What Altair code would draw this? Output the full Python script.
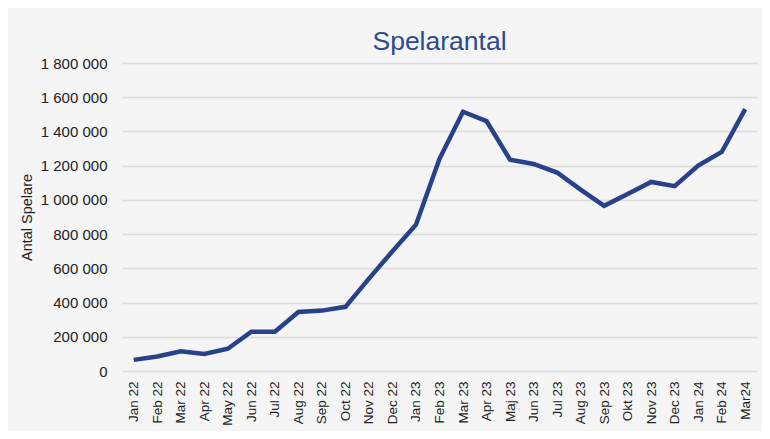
import altair as alt
import pandas as pd

months = ["Jan 22", "Feb 22", "Mar 22", "Apr 22", "May 22", "Jun 22", "Jul 22",
          "Aug 22", "Sep 22", "Oct 22", "Nov 22", "Dec 22", "Jan 23", "Feb 23",
          "Mar 23", "Apr 23", "Maj 23", "Jun 23", "Jul 23", "Aug 23", "Sep 23",
          "Okt 23", "Nov 23", "Dec 23", "Jan 24", "Feb 24", "Mar24"]
players = [65000, 85000, 115000, 100000, 130000, 230000, 230000,
           345000, 353000, 375000, 540000, 700000, 855000, 1240000,
           1515000, 1460000, 1235000, 1210000, 1160000, 1060000, 965000,
           1035000, 1105000, 1080000, 1200000, 1280000, 1530000]

df = pd.DataFrame({"month": months, "players": players})

chart = alt.Chart(df).mark_line(color="#27418a", strokeWidth=4.5).encode(
    x=alt.X("month:N", sort=months, title=None,
            scale=alt.Scale(paddingInner=1, paddingOuter=0.5),
            axis=alt.Axis(labelAngle=-90, labelFontSize=13.5, labelColor="#222",
                          ticks=False, domain=False, labelPadding=10,
                          labelBaseline="middle")),
    y=alt.Y("players:Q", title="Antal Spelare",
            scale=alt.Scale(domain=[0, 1800000]),
            axis=alt.Axis(values=list(range(0, 1800001, 200000)),
                          labelExpr="replace(format(datum.value, ','), /,/g, ' ')",
                          labelFontSize=15, labelColor="#222", ticks=False,
                          domain=False, labelPadding=15, titleFontSize=14.5,
                          titleFontWeight="normal", titleColor="#222",
                          titlePadding=6, gridColor="#dcdcdc", gridWidth=1.5)),
).properties(
    width=754, height=423,
    autosize=alt.AutoSizeParams(type="fit", contains="padding"),
    title=alt.TitleParams("Spelarantal", fontSize=26.5, fontWeight="normal",
                          color="#2d4a92", anchor="middle", offset=1),
    padding={"left": 11, "top": 20, "right": 5, "bottom": 5},
    background="#f5f5f5",
).configure(font="Liberation Sans").configure_view(stroke=None)

chart.save("out.html", embed_options={"renderer": "svg", "actions": False})
